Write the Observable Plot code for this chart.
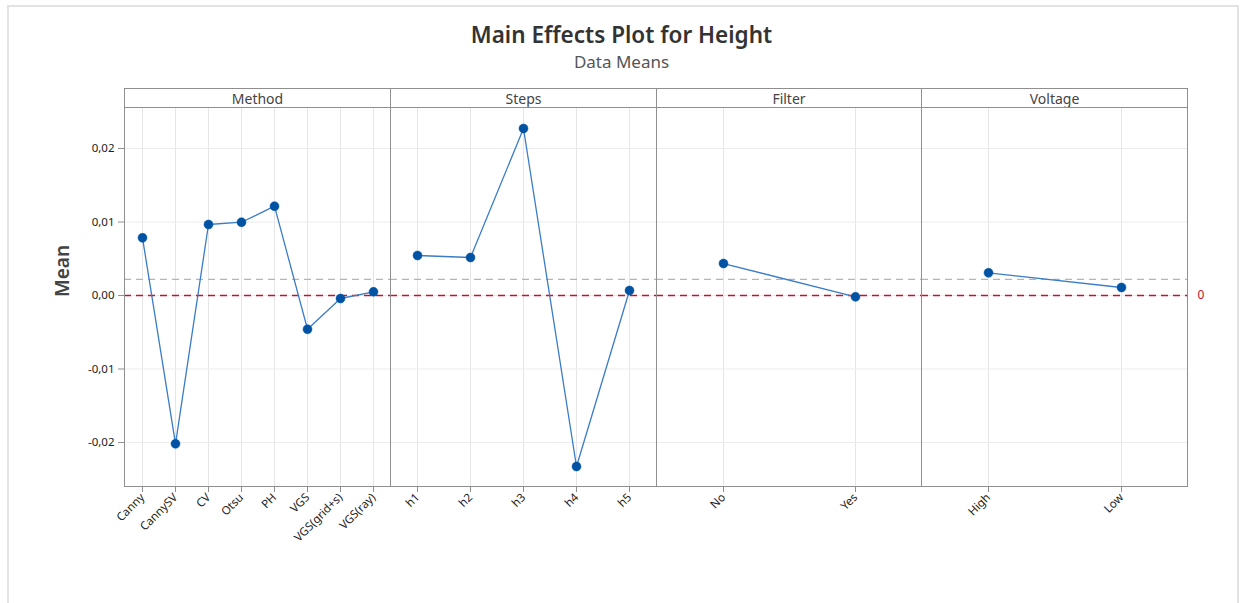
<!DOCTYPE html>
<html>
<head>
<meta charset="utf-8">
<script src="https://cdn.jsdelivr.net/npm/d3@7"></script>
<script src="https://cdn.jsdelivr.net/npm/@observablehq/plot@0.6"></script>
<style>
  html, body { margin: 0; padding: 0; background: #fff; }
  body { font-family: "Noto Sans", "Open Sans", sans-serif; }
  #wrap { position: relative; width: 1243px; height: 603px; overflow: hidden; }
  #border { position: absolute; left: 7px; top: 5px; width: 1232px; height: 620px; border: 2px solid #e3e3e3; box-sizing: border-box; }
  #title { position: absolute; left: 0; width: 1243px; top: 19px; text-align: center; font-size: 22.5px; font-weight: 600; color: #333; }
  #subtitle { position: absolute; left: 0; width: 1243px; top: 50px; text-align: center; font-size: 17px; color: #555; }
  .strip { position: absolute; top: 88px; height: 20px; box-sizing: border-box; border: 1px solid #8f8f8f; text-align: center; font-size: 14px; line-height: 19px; color: #444; }
  .panel { position: absolute; top: 88px; }
</style>
</head>
<body>
<div id="wrap">
  <div id="border"></div>
  <div id="title">Main Effects Plot for Height</div>
  <div id="subtitle">Data Means</div>
</div>
<script>
// ---- data ----
const factors = ["Method", "Steps", "Filter", "Voltage"];
const methodLevels = ["Canny", "CannySV", "CV", "Otsu", "PH", "VGS", "VGS(grid+s)", "VGS(ray)"];
const methodMeans  = [0.00785, -0.02018, 0.00966, 0.00997, 0.01215, -0.00459, -0.00041, 0.00050];
const stepsLevels  = ["h1", "h2", "h3", "h4", "h5"];
const stepsMeans   = [0.00544, 0.00517, 0.02272, -0.02327, 0.00068];
const filterLevels = ["No", "Yes"];
const filterMeans  = [0.00435, -0.00018];
const voltageLevels = ["High", "Low"];
const voltageMeans  = [0.00309, 0.00109];
const grandMean = 0.00218;
const referenceLine = 0;
const yTicks = [-0.02, -0.01, 0, 0.01, 0.02];
const yLabel = "Mean";

const levelsList = [methodLevels, stepsLevels, filterLevels, voltageLevels];
const meansList = [methodMeans, stepsMeans, filterMeans, voltageMeans];

// ---- layout ----
const frameLeft = 124, panelH = 379, stripH = 19, bottomM = 70;
const panelLefts = [124, 390, 656, 921];
const panelWidths = [266, 266, 265, 266];
const yDomain = [-0.02599, 0.02558];
const fmt = d => d3.format(".2f")(d).replace(".", ",").replace("−", "-");

const wrap = document.getElementById("wrap");

factors.forEach((f, i) => {
  const strip = document.createElement("div");
  strip.className = "strip";
  strip.style.left = panelLefts[i] + "px";
  strip.style.width = (panelWidths[i] + 1) + "px";
  strip.textContent = f;
  wrap.appendChild(strip);

  const data = levelsList[i].map((lv, j) => ({level: lv, mean: meansList[i][j]}));
  const first = i === 0, last = i === factors.length - 1;
  const mL = first ? frameLeft : 0;
  const mR = last ? 50 : 0;
  const marks = [
    Plot.gridX(levelsList[i], {stroke: "#e6e6e6", strokeOpacity: 1}),
    Plot.gridY(yTicks, {stroke: "#ececec", strokeOpacity: 1}),
    Plot.ruleY([grandMean], {stroke: "#b5b5b5", strokeWidth: 1.3, strokeDasharray: "7,5"}),
    Plot.ruleY([referenceLine], {stroke: "#c8102e", strokeWidth: 1.3, strokeDasharray: "7,5"}),
    Plot.line(data, {x: "level", y: "mean", stroke: "#3a7cc8", strokeWidth: 1.3}),
    Plot.dot(data, {x: "level", y: "mean", r: 4.5, fill: "#0052a3", stroke: "#0052a3", strokeWidth: 0.5}),
    Plot.frame({stroke: "#8f8f8f"}),
    Plot.axisX(levelsList[i], {tickSize: 6, tickPadding: 3, tickRotate: -45, fontSize: 11.5, stroke: "#8f8f8f", fill: "#222", label: null})
  ];
  if (first) {
    marks.push(Plot.axisY(yTicks, {tickSize: 6, tickPadding: 4, tickFormat: fmt, fontSize: 11.5, stroke: "#8f8f8f", fill: "#222", label: null}));
    marks.push(Plot.text([yLabel], {frameAnchor: "left", dx: -62, rotate: -90, fontSize: 19, fontWeight: 600, fill: "#444", text: d => d}));
  }
  if (last) {
    marks.push(Plot.text([referenceLine], {y: d => d, frameAnchor: "right", dx: 10, textAnchor: "start", fontSize: 12, fill: "#c8102e", text: d => String(d)}));
  }
  const svg = Plot.plot({
    width: mL + panelWidths[i] + mR,
    height: stripH + panelH + bottomM,
    marginLeft: mL, marginRight: mR, marginTop: stripH, marginBottom: bottomM,
    style: {overflow: "visible", background: "transparent", fontFamily: "'Noto Sans', 'Open Sans', sans-serif"},
    x: {type: "point", domain: levelsList[i], padding: 0.5, axis: null},
    y: {domain: yDomain, axis: null},
    marks
  });
  const holder = document.createElement("div");
  holder.className = "panel";
  holder.style.left = (panelLefts[i] - mL) + "px";
  holder.appendChild(svg);
  wrap.appendChild(holder);
});
</script>
</body>
</html>
